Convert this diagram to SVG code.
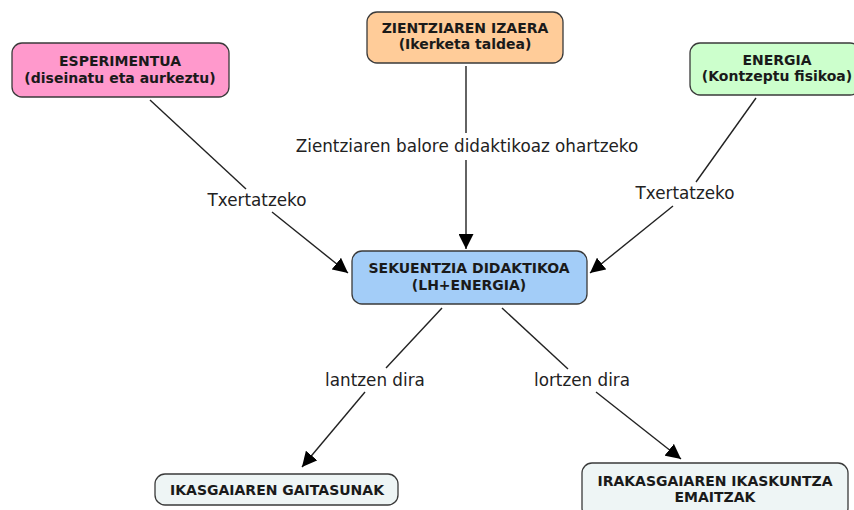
<svg xmlns="http://www.w3.org/2000/svg" width="854" height="510" viewBox="0 0 854 510">
<defs>
<marker id="arr" viewBox="0 0 15 15" refX="15" refY="7.5" markerWidth="15" markerHeight="15" markerUnits="userSpaceOnUse" orient="auto">
<path d="M0,0 L15,7.5 L0,15 Z" fill="#000"/>
</marker>
<style>
.box{stroke:#3a3a3a;stroke-width:1.3}
.t{font-family:"DejaVu Sans","Verdana",sans-serif;font-weight:bold;font-size:14px;fill:#1a1a1a;text-anchor:middle}
.lbl{font-family:"DejaVu Sans","Verdana",sans-serif;font-size:16.8px;fill:#222;text-anchor:middle}
.c{stroke:#222;stroke-width:1.4;fill:none}
</style>
</defs>
<rect width="854" height="510" fill="#fff"/>
<g id="connectors">
<line class="c" x1="150" y1="100" x2="246" y2="189"/>
<line class="c" x1="272" y1="212" x2="348" y2="273" marker-end="url(#arr)"/>
<line class="c" x1="466" y1="66" x2="466" y2="133"/>
<line class="c" x1="466" y1="160" x2="466" y2="249" marker-end="url(#arr)"/>
<line class="c" x1="756" y1="98" x2="696" y2="182"/>
<line class="c" x1="673" y1="206" x2="590" y2="273" marker-end="url(#arr)"/>
<line class="c" x1="442" y1="308" x2="386" y2="368"/>
<line class="c" x1="365" y1="392" x2="302" y2="467" marker-end="url(#arr)"/>
<line class="c" x1="502" y1="308" x2="568" y2="369"/>
<line class="c" x1="596" y1="392" x2="681" y2="459" marker-end="url(#arr)"/>
<text class="lbl" x="257" y="206">Txertatzeko</text>
<text class="lbl" x="467" y="152">Zientziaren balore didaktikoaz ohartzeko</text>
<text class="lbl" x="685" y="199">Txertatzeko</text>
<text class="lbl" x="375" y="386">lantzen dira</text>
<text class="lbl" x="582" y="386">lortzen dira</text>
</g>
<g id="esperimentua">
<rect class="box" x="12" y="43" width="217" height="54" rx="10" fill="#ff99cc"/>
<text class="t" x="120" y="66">ESPERIMENTUA</text>
<text class="t" x="120" y="83">(diseinatu eta aurkeztu)</text>
</g>
<g id="zientziaren">
<rect class="box" x="367" y="12" width="196" height="51" rx="10" fill="#ffcc99"/>
<text class="t" x="465" y="33">ZIENTZIAREN IZAERA</text>
<text class="t" x="465" y="49">(Ikerketa taldea)</text>
</g>
<g id="energia">
<rect class="box" x="690" y="43" width="170" height="52" rx="10" fill="#ccffcc"/>
<text class="t" x="777" y="65">ENERGIA</text>
<text class="t" x="777" y="81">(Kontzeptu fisikoa)</text>
</g>
<g id="sekuentzia">
<rect class="box" x="352" y="251" width="235" height="53" rx="10" fill="#a3cdf8"/>
<text class="t" x="469" y="273">SEKUENTZIA DIDAKTIKOA</text>
<text class="t" x="469" y="290">(LH+ENERGIA)</text>
</g>
<g id="gaitasunak">
<rect class="box" x="155" y="474" width="243" height="31" rx="10" fill="#eef5f5"/>
<text class="t" x="277" y="495">IKASGAIAREN GAITASUNAK</text>
</g>
<g id="emaitzak">
<rect class="box" x="582" y="463" width="266" height="55" rx="10" fill="#eef5f5"/>
<text class="t" x="715" y="486">IRAKASGAIAREN IKASKUNTZA</text>
<text class="t" x="715" y="502">EMAITZAK</text>
</g>
</svg>
